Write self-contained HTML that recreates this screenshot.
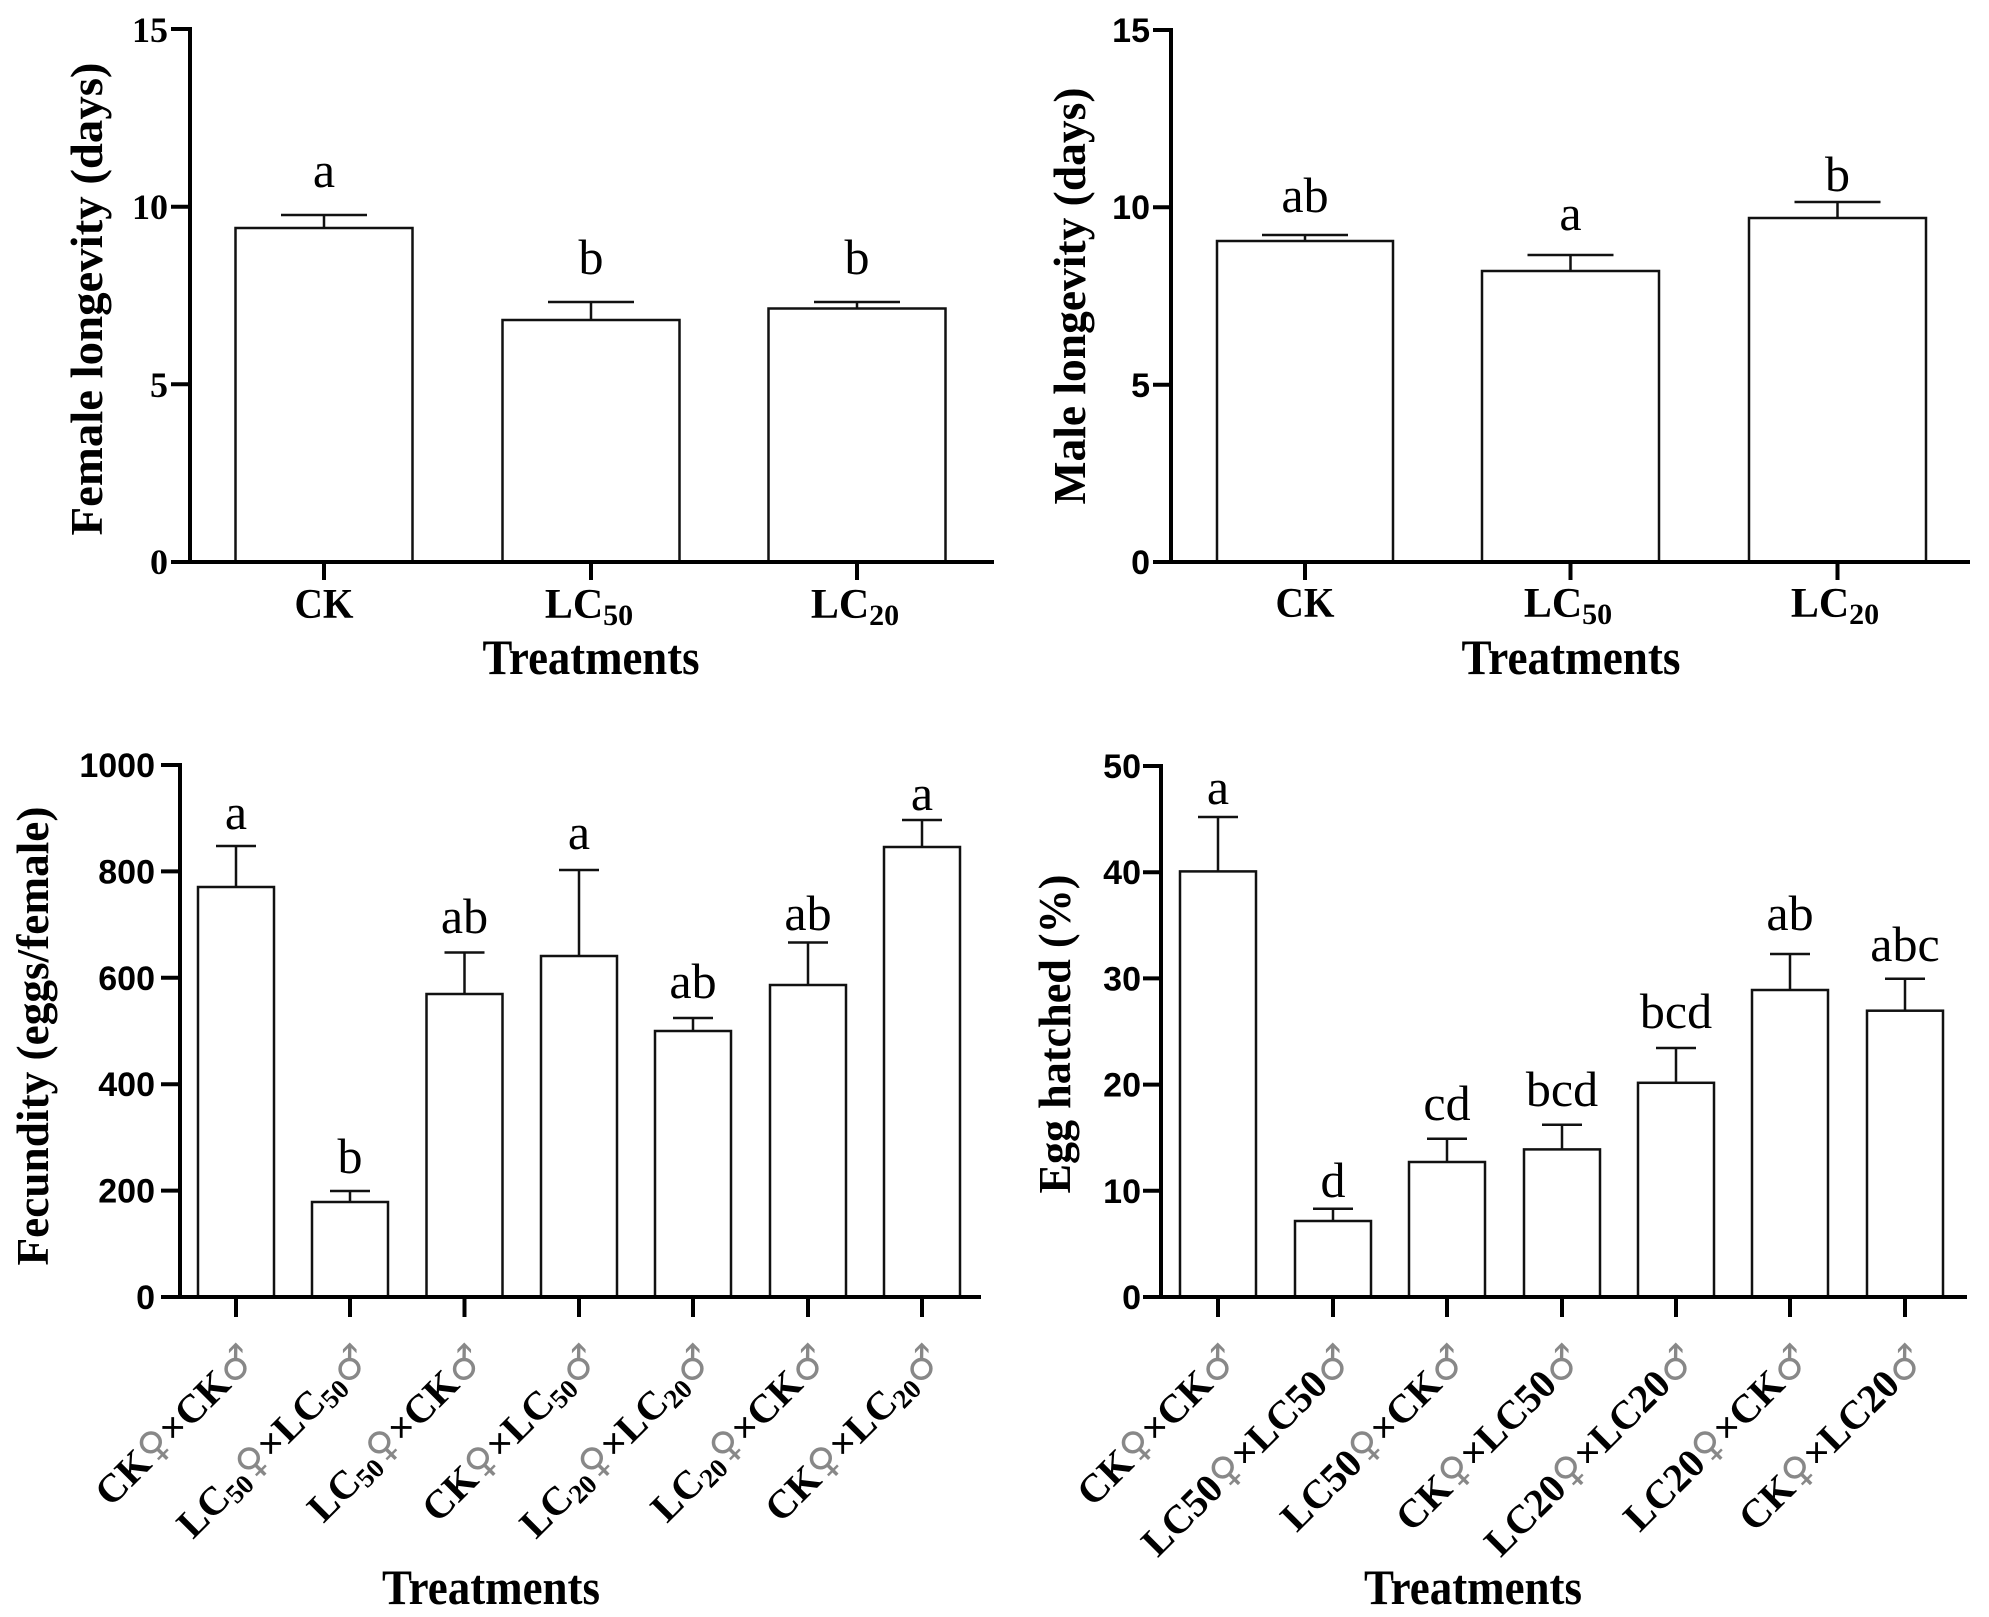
<!DOCTYPE html>
<html>
<head>
<meta charset="utf-8">
<style>
html,body{margin:0;padding:0;background:#fff;}
svg{display:block;}
.ax{stroke:#000;stroke-width:4;fill:none;stroke-linecap:square;}
.bar{stroke:#111;stroke-width:2.5;fill:#fff;}
.err{stroke:#111;stroke-width:2.5;fill:none;}
.tkS{font-family:"Liberation Sans",sans-serif;font-weight:bold;font-size:34px;fill:#000;}
.tkT{font-family:"Liberation Serif",serif;font-weight:bold;font-size:36px;fill:#000;}
.lab{font-family:"Liberation Serif",serif;font-weight:bold;fill:#000;}
.let{font-family:"Liberation Serif",serif;font-size:50px;fill:#000;}
.cat{font-family:"Liberation Serif",serif;font-weight:bold;font-size:40px;fill:#000;}
.sym{font-family:"DejaVu Sans",sans-serif;font-weight:normal;fill:#888;}
</style>
</head>
<body>
<svg width="1989" height="1617" viewBox="0 0 1989 1617" xmlns="http://www.w3.org/2000/svg">
<rect width="1989" height="1617" fill="#fff"/>

<!-- ================= TOP LEFT ================= -->
<g>
  <!-- bars -->
  <rect class="bar" x="235.5" y="228" width="177" height="334"/>
  <rect class="bar" x="502.5" y="320" width="177" height="242"/>
  <rect class="bar" x="768.5" y="308.5" width="177" height="253.5"/>
  <!-- error bars -->
  <path class="err" d="M324 228 V215 M281 215 H367"/>
  <path class="err" d="M591 320 V302 M548 302 H634"/>
  <path class="err" d="M857 308.5 V302 M814 302 H900"/>
  <!-- axes -->
  <path class="ax" d="M190 29 V562 M173 562 H992"/>
  <path class="ax" d="M173 29 H190 M173 206.7 H190 M173 384.3 H190"/>
  <path class="ax" d="M324 562 V578 M591 562 V578 M857 562 V578"/>
  <!-- tick labels -->
  <text class="tkT" x="168" y="42" text-anchor="end">15</text>
  <text class="tkT" x="168" y="219" text-anchor="end">10</text>
  <text class="tkT" x="168" y="397" text-anchor="end">5</text>
  <text class="tkT" x="168" y="574" text-anchor="end">0</text>
  <!-- letters -->
  <text class="let" x="324" y="187" text-anchor="middle">a</text>
  <text class="let" x="591" y="274" text-anchor="middle">b</text>
  <text class="let" x="857" y="274" text-anchor="middle">b</text>
  <!-- x labels -->
  <text class="lab" x="324" y="618" font-size="42" text-anchor="middle" textLength="59" lengthAdjust="spacingAndGlyphs">CK</text>
  <text class="lab" x="589" y="618" font-size="42" text-anchor="middle">LC<tspan font-size="30" dy="7">50</tspan></text>
  <text class="lab" x="855" y="618" font-size="42" text-anchor="middle">LC<tspan font-size="30" dy="7">20</tspan></text>
  <text class="lab" x="591" y="674" font-size="50" text-anchor="middle" textLength="217" lengthAdjust="spacingAndGlyphs">Treatments</text>
  <text class="lab" transform="translate(102,299) rotate(-90)" font-size="46" text-anchor="middle" textLength="473" lengthAdjust="spacingAndGlyphs">Female  longevity (days)</text>
</g>

<!-- ================= TOP RIGHT ================= -->
<g>
  <rect class="bar" x="1217" y="241" width="176" height="321"/>
  <rect class="bar" x="1482" y="271" width="177" height="291"/>
  <rect class="bar" x="1749" y="218" width="177" height="344"/>
  <path class="err" d="M1305 241 V235 M1262 235 H1348"/>
  <path class="err" d="M1570.5 271 V255 M1527.5 255 H1613.5"/>
  <path class="err" d="M1837.5 218 V202 M1794.5 202 H1880.5"/>
  <path class="ax" d="M1171 30 V562 M1155 562 H1968"/>
  <path class="ax" d="M1155 30 H1171 M1155 207.3 H1171 M1155 384.7 H1171"/>
  <path class="ax" d="M1305 562 V578 M1570.5 562 V578 M1837.5 562 V578"/>
  <text class="tkS" x="1150" y="42" text-anchor="end">15</text>
  <text class="tkS" x="1150" y="219" text-anchor="end">10</text>
  <text class="tkS" x="1150" y="397" text-anchor="end">5</text>
  <text class="tkS" x="1150" y="574" text-anchor="end">0</text>
  <text class="let" x="1305" y="212" text-anchor="middle">ab</text>
  <text class="let" x="1570.5" y="230" text-anchor="middle">a</text>
  <text class="let" x="1837.5" y="191" text-anchor="middle">b</text>
  <text class="lab" x="1305" y="617" font-size="42" text-anchor="middle" textLength="59" lengthAdjust="spacingAndGlyphs">CK</text>
  <text class="lab" x="1568" y="617" font-size="42" text-anchor="middle">LC<tspan font-size="30" dy="7">50</tspan></text>
  <text class="lab" x="1835" y="617" font-size="42" text-anchor="middle">LC<tspan font-size="30" dy="7">20</tspan></text>
  <text class="lab" x="1571" y="674" font-size="50" text-anchor="middle" textLength="219" lengthAdjust="spacingAndGlyphs">Treatments</text>
  <text class="lab" transform="translate(1085,296) rotate(-90)" font-size="46" text-anchor="middle" textLength="417" lengthAdjust="spacingAndGlyphs">Male longevity (days)</text>
</g>

<!-- ================= BOTTOM LEFT ================= -->
<g>
  <rect class="bar" x="198" y="887" width="76" height="410"/>
  <rect class="bar" x="312" y="1202" width="76" height="95"/>
  <rect class="bar" x="426.5" y="994" width="76" height="303"/>
  <rect class="bar" x="541" y="956" width="76" height="341"/>
  <rect class="bar" x="655" y="1031" width="76" height="266"/>
  <rect class="bar" x="770" y="985" width="76" height="312"/>
  <rect class="bar" x="884" y="847" width="76" height="450"/>
  <path class="err" d="M236 887 V846 M216 846 H256"/>
  <path class="err" d="M350 1202 V1191 M330 1191 H370"/>
  <path class="err" d="M464.5 994 V952.5 M444.5 952.5 H484.5"/>
  <path class="err" d="M579 956 V870 M559 870 H599"/>
  <path class="err" d="M693 1031 V1018 M673 1018 H713"/>
  <path class="err" d="M808 985 V942.5 M788 942.5 H828"/>
  <path class="err" d="M922 847 V820 M902 820 H942"/>
  <path class="ax" d="M180 765 V1297 M163 1297 H979"/>
  <path class="ax" d="M163 765 H180 M163 871.4 H180 M163 977.8 H180 M163 1084.2 H180 M163 1190.6 H180"/>
  <path class="ax" d="M236 1297 V1315 M350 1297 V1315 M464.5 1297 V1315 M579 1297 V1315 M693 1297 V1315 M808 1297 V1315 M922 1297 V1315"/>
  <text class="tkS" x="155" y="777" text-anchor="end">1000</text>
  <text class="tkS" x="155" y="883.4" text-anchor="end">800</text>
  <text class="tkS" x="155" y="989.8" text-anchor="end">600</text>
  <text class="tkS" x="155" y="1096.2" text-anchor="end">400</text>
  <text class="tkS" x="155" y="1202.6" text-anchor="end">200</text>
  <text class="tkS" x="155" y="1309" text-anchor="end">0</text>
  <text class="let" x="236" y="829" text-anchor="middle">a</text>
  <text class="let" x="350" y="1173" text-anchor="middle">b</text>
  <text class="let" x="464.5" y="933" text-anchor="middle">ab</text>
  <text class="let" x="579" y="849" text-anchor="middle">a</text>
  <text class="let" x="693" y="998" text-anchor="middle">ab</text>
  <text class="let" x="808" y="930" text-anchor="middle">ab</text>
  <text class="let" x="922" y="810" text-anchor="middle">a</text>
  <!-- category labels -->
  <text class="cat" transform="translate(258,1361) rotate(-45)" text-anchor="end">CK<tspan class="sym">♀</tspan>×CK<tspan class="sym">♂</tspan></text>
  <text class="cat" transform="translate(372,1361) rotate(-45)" text-anchor="end">LC<tspan font-size="27" dy="6">50</tspan><tspan class="sym" dy="-6">♀</tspan>×LC<tspan font-size="27" dy="6">50</tspan><tspan class="sym" dy="-6">♂</tspan></text>
  <text class="cat" transform="translate(486.5,1361) rotate(-45)" text-anchor="end">LC<tspan font-size="27" dy="6">50</tspan><tspan class="sym" dy="-6">♀</tspan>×CK<tspan class="sym">♂</tspan></text>
  <text class="cat" transform="translate(601,1361) rotate(-45)" text-anchor="end">CK<tspan class="sym">♀</tspan>×LC<tspan font-size="27" dy="6">50</tspan><tspan class="sym" dy="-6">♂</tspan></text>
  <text class="cat" transform="translate(715,1361) rotate(-45)" text-anchor="end">LC<tspan font-size="27" dy="6">20</tspan><tspan class="sym" dy="-6">♀</tspan>×LC<tspan font-size="27" dy="6">20</tspan><tspan class="sym" dy="-6">♂</tspan></text>
  <text class="cat" transform="translate(830,1361) rotate(-45)" text-anchor="end">LC<tspan font-size="27" dy="6">20</tspan><tspan class="sym" dy="-6">♀</tspan>×CK<tspan class="sym">♂</tspan></text>
  <text class="cat" transform="translate(944,1361) rotate(-45)" text-anchor="end">CK<tspan class="sym">♀</tspan>×LC<tspan font-size="27" dy="6">20</tspan><tspan class="sym" dy="-6">♂</tspan></text>
  <text class="lab" x="491" y="1604" font-size="50" text-anchor="middle" textLength="218" lengthAdjust="spacingAndGlyphs">Treatments</text>
  <text class="lab" transform="translate(48,1036) rotate(-90)" font-size="45" text-anchor="middle" textLength="459" lengthAdjust="spacingAndGlyphs">Fecundity (eggs/female)</text>
</g>

<!-- ================= BOTTOM RIGHT ================= -->
<g>
  <rect class="bar" x="1180" y="871.4" width="76" height="425.6"/>
  <rect class="bar" x="1295" y="1221" width="76" height="76"/>
  <rect class="bar" x="1409" y="1162" width="76" height="135"/>
  <rect class="bar" x="1524" y="1149.4" width="76" height="147.6"/>
  <rect class="bar" x="1638" y="1082.8" width="76" height="214.2"/>
  <rect class="bar" x="1752" y="990" width="76" height="307"/>
  <rect class="bar" x="1867" y="1010.7" width="76" height="286.3"/>
  <path class="err" d="M1218 871.4 V817 M1198 817 H1238"/>
  <path class="err" d="M1333 1221 V1208.7 M1313 1208.7 H1353"/>
  <path class="err" d="M1447 1162 V1138.8 M1427 1138.8 H1467"/>
  <path class="err" d="M1562 1149.4 V1124.8 M1542 1124.8 H1582"/>
  <path class="err" d="M1676 1082.8 V1048 M1656 1048 H1696"/>
  <path class="err" d="M1790 990 V954 M1770 954 H1810"/>
  <path class="err" d="M1905 1010.7 V978.8 M1885 978.8 H1925"/>
  <path class="ax" d="M1161 766 V1297 M1145 1297 H1965"/>
  <path class="ax" d="M1145 766 H1161 M1145 872.2 H1161 M1145 978.4 H1161 M1145 1084.6 H1161 M1145 1190.8 H1161"/>
  <path class="ax" d="M1218 1297 V1315 M1333 1297 V1315 M1447 1297 V1315 M1562 1297 V1315 M1676 1297 V1315 M1790 1297 V1315 M1905 1297 V1315"/>
  <text class="tkS" x="1141" y="778" text-anchor="end">50</text>
  <text class="tkS" x="1141" y="884.2" text-anchor="end">40</text>
  <text class="tkS" x="1141" y="990.4" text-anchor="end">30</text>
  <text class="tkS" x="1141" y="1096.6" text-anchor="end">20</text>
  <text class="tkS" x="1141" y="1202.8" text-anchor="end">10</text>
  <text class="tkS" x="1141" y="1309" text-anchor="end">0</text>
  <text class="let" x="1218" y="804" text-anchor="middle">a</text>
  <text class="let" x="1333" y="1197" text-anchor="middle">d</text>
  <text class="let" x="1447" y="1120" text-anchor="middle">cd</text>
  <text class="let" x="1562" y="1106" text-anchor="middle">bcd</text>
  <text class="let" x="1676" y="1028" text-anchor="middle">bcd</text>
  <text class="let" x="1790" y="930" text-anchor="middle">ab</text>
  <text class="let" x="1905" y="961" text-anchor="middle">abc</text>
  <text class="cat" transform="translate(1240,1361) rotate(-45)" text-anchor="end">CK<tspan class="sym">♀</tspan>×CK<tspan class="sym">♂</tspan></text>
  <text class="cat" transform="translate(1355,1361) rotate(-45)" text-anchor="end">LC50<tspan class="sym">♀</tspan>×LC50<tspan class="sym">♂</tspan></text>
  <text class="cat" transform="translate(1469,1361) rotate(-45)" text-anchor="end">LC50<tspan class="sym">♀</tspan>×CK<tspan class="sym">♂</tspan></text>
  <text class="cat" transform="translate(1584,1361) rotate(-45)" text-anchor="end">CK<tspan class="sym">♀</tspan>×LC50<tspan class="sym">♂</tspan></text>
  <text class="cat" transform="translate(1698,1361) rotate(-45)" text-anchor="end">LC20<tspan class="sym">♀</tspan>×LC20<tspan class="sym">♂</tspan></text>
  <text class="cat" transform="translate(1812,1361) rotate(-45)" text-anchor="end">LC20<tspan class="sym">♀</tspan>×CK<tspan class="sym">♂</tspan></text>
  <text class="cat" transform="translate(1927,1361) rotate(-45)" text-anchor="end">CK<tspan class="sym">♀</tspan>×LC20<tspan class="sym">♂</tspan></text>
  <text class="lab" x="1473" y="1604" font-size="50" text-anchor="middle" textLength="218" lengthAdjust="spacingAndGlyphs">Treatments</text>
  <text class="lab" transform="translate(1070,1034) rotate(-90)" font-size="45" text-anchor="middle" textLength="319" lengthAdjust="spacingAndGlyphs">Egg hatched (%)</text>
</g>
</svg>
</body>
</html>
